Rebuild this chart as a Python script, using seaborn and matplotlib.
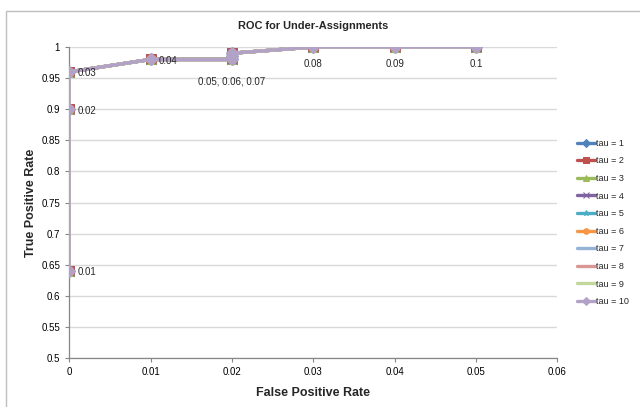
import matplotlib
matplotlib.use("Agg")
import matplotlib.pyplot as plt
import seaborn as sns
import pandas as pd
from matplotlib.patches import Rectangle

# Data (thresholds 0.01 ... 0.1)
thresholds = ["0.01", "0.02", "0.03", "0.04", "0.05", "0.06", "0.07", "0.08", "0.09", "0.1"]
fpr = [0.0, 0.0, 0.0, 0.01, 0.02, 0.02, 0.02, 0.03, 0.04, 0.05]
tpr = [0.64, 0.90, 0.96, 0.98, 0.98, 0.985, 0.99, 1.0, 1.0, 1.0]
series = ["tau = 1", "tau = 2", "tau = 3", "tau = 4", "tau = 5",
          "tau = 6", "tau = 7", "tau = 8", "tau = 9", "tau = 10"]
label_text = ["0.01", "0.02", "0.03", "0.04", "0.05, 0.06, 0.07", "", "", "0.08", "0.09", "0.1"]

colors = ["#4F81BD", "#C0504D", "#9BBB59", "#8064A2", "#4BACC6",
          "#F79646", "#95B3D7", "#D99694", "#C3D69B", "#B3A2C7"]
markers = ["D", "s", "^", "x", "*", "o", "_", "_", "", "D"]

rows = []
for i, s in enumerate(series):
    for j, (x, y) in enumerate(zip(fpr, tpr)):
        rows.append({"series": s, "order": j, "FPR": x, "TPR": y})
df = pd.DataFrame(rows)

sns.set_style("white")
plt.rcParams["font.family"] = ["Liberation Sans", "DejaVu Sans"]

fig = plt.figure(figsize=(6.4, 4.07), dpi=100)
ax = fig.add_axes([0.108, 0.120, 0.763, 0.7645])

for i, s in enumerate(series):
    sub = df[df["series"] == s].sort_values("order")
    sns.lineplot(data=sub, x="FPR", y="TPR", sort=False, estimator=None,
                 color=colors[i], lw=2.4, marker=markers[i] if markers[i] else None,
                 markersize=6.5, markeredgecolor=colors[i], label=s, ax=ax, zorder=3 + i)

ax.set_xlim(0, 0.06)
ax.set_ylim(0.5, 1.0)
ax.set_xticks([0, 0.01, 0.02, 0.03, 0.04, 0.05, 0.06])
ax.set_xticklabels(["0", "0.01", "0.02", "0.03", "0.04", "0.05", "0.06"])
yt = [0.5, 0.55, 0.6, 0.65, 0.7, 0.75, 0.8, 0.85, 0.9, 0.95, 1.0]
ax.set_yticks(yt)
ax.set_yticklabels(["0.5", "0.55", "0.6", "0.65", "0.7", "0.75", "0.8", "0.85", "0.9", "0.95", "1"])
ax.tick_params(labelsize=7, colors="#000000", length=3, direction="out", width=0.8)
ax.tick_params(axis="x", color="#868686", bottom=True)
ax.tick_params(axis="y", color="#868686", left=True)
ax.yaxis.grid(True, color="#D9D9D9", lw=1)
ax.set_axisbelow(True)
for sp in ["top", "right"]:
    ax.spines[sp].set_visible(False)
for sp in ["left", "bottom"]:
    ax.spines[sp].set_color("#868686")
    ax.spines[sp].set_linewidth(0.9)

ax.set_xlabel("False Positive Rate", fontsize=9, fontweight="bold", labelpad=7)
ax.set_ylabel("True Positive Rate", fontsize=9, fontweight="bold", labelpad=3)
ax.set_title("ROC for Under-Assignments", fontsize=7.9, fontweight="bold", pad=13)

# data labels
for j, t in enumerate(label_text):
    if not t:
        continue
    x, y = fpr[j], tpr[j]
    if x == 0 or j == 3:
        ax.annotate(t, (x, y), xytext=(6, -1), textcoords="offset points",
                    fontsize=7, va="center", ha="left", zorder=20)
    elif j == 4:
        ax.annotate(t, (x, tpr[6]), xytext=(0, -20), textcoords="offset points",
                    fontsize=7, va="center", ha="center", zorder=20)
    else:
        ax.annotate(t, (x, y), xytext=(0, -12), textcoords="offset points",
                    fontsize=7, va="center", ha="center", zorder=20)

leg = ax.legend(loc="center left", bbox_to_anchor=(1.03, 0.436), frameon=False,
                fontsize=6.5, handlelength=2.0, labelspacing=0.95, handletextpad=0.1,
                borderpad=0)
for h in leg.legend_handles:
    h.set_markersize(4)

fig.patches.append(Rectangle((6 / 640, -0.1), 1.2, 1.1 - 11 / 407, transform=fig.transFigure,
                             fill=False, edgecolor="#BFBFBF", lw=1))
fig.savefig("out.png", dpi=100)
